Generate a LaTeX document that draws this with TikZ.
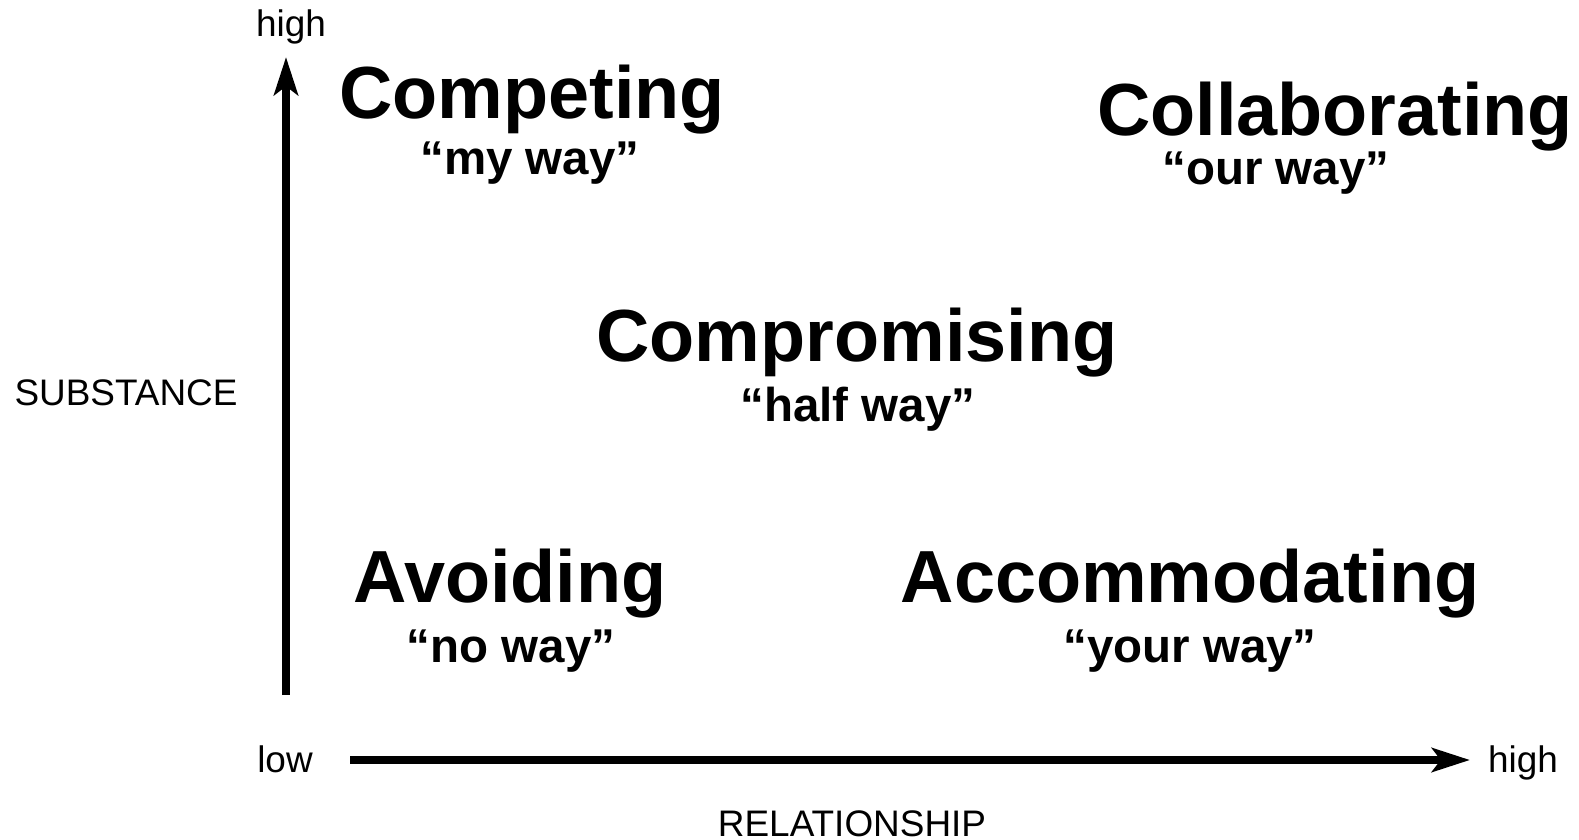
\documentclass[tikz,border=0pt]{standalone}
\usepackage{fontspec}
\setmainfont{Liberation Sans}
\usepackage{tikz}
\newcommand{\axiswidth}{2.3pt}
\newcommand{\modesize}{\fontsize{21}{25}\selectfont}
\newcommand{\mottosize}{\fontsize{13.5}{16}\selectfont}
\newcommand{\labelsize}{\fontsize{10.5}{12}\selectfont}
\usetikzlibrary{arrows.meta,positioning}
\tikzset{
  axis/.style={draw,line width=\axiswidth,-{Stealth[length=10.8pt,width=6.8pt,inset=2.5pt]}},
  lbl/.style={font=\labelsize,inner sep=0,anchor=base},
  mode/.style={font=\modesize\bfseries,inner sep=0,anchor=base},
  motto/.style={font=\mottosize\bfseries,inner sep=0,anchor=base},
}
\begin{document}
\begin{tikzpicture}[x=0.01cm,y=-0.01cm]
  \useasboundingbox (0,0) rectangle (1579,840);
  % axes
  \coordinate (o) at (286,695);
  \coordinate (s) at (286,57);
  \coordinate (r0) at (350,760);
  \coordinate (r1) at (1470,760);
  \path [axis] (o) -- (s);
  \path [axis] (r0) -- (r1);
  \node (shigh) [lbl] at (291,37) {high};
  \node (rlow) [lbl] at (285,772) {low};
  \node (rhigh) [lbl] at (1523,772) {high};
  \node (sub) [lbl] at (126,406) {SUBSTANCE};
  \node (rel) [lbl] at (852,836) {RELATIONSHIP};
  % the five modes
  \node (comp) [mode] at (532,119) {Competing};
  \node (compq) [motto] at (530,175) {“my way”};
  \node (coll) [mode] at (1335,136) {Collaborating};
  \node (collq) [motto] at (1276,185) {“our way”};
  \node (prom) [mode] at (857,362) {Compromising};
  \node (promq) [motto] at (858,422) {“half way”};
  \node (avoid) [mode] at (510,602) {Avoiding};
  \node (avoidq) [motto] at (511,662) {“no way”};
  \node (acc) [mode] at (1190,602) {Accommodating};
  \node (accq) [motto] at (1190,662) {“your way”};
\end{tikzpicture}
\end{document}
